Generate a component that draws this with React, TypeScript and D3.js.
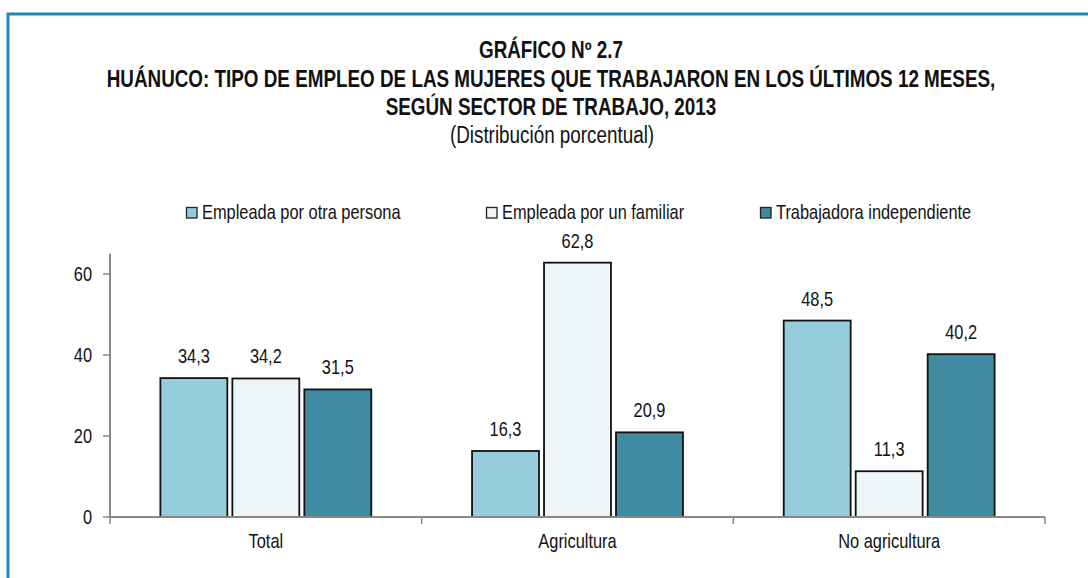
import React from 'react';
import * as d3 from 'd3';

const categories = ['Total', 'Agricultura', 'No agricultura'];
const seriesNames = ['Empleada por otra persona', 'Empleada por un familiar', 'Trabajadora independiente'];
const empleadaOtra = [34.3, 16.3, 48.5];
const empleadaFamiliar = [34.2, 62.8, 11.3];
const independiente = [31.5, 20.9, 40.2];
const yTicks = [0, 20, 40, 60];
const colors = ['#96cddd', '#edf5f8', '#3e8ba2'];

const titleLines = [
  'GRÁFICO Nº 2.7',
  'HUÁNUCO: TIPO DE EMPLEO DE LAS MUJERES QUE TRABAJARON EN LOS ÚLTIMOS 12 MESES,',
  'SEGÚN SECTOR DE TRABAJO, 2013',
];
const subtitle = '(Distribución porcentual)';

const font = '"Liberation Sans", Arial, sans-serif';
const narrow = 0.82; // no Arial Narrow installed: squeeze Liberation Sans

// text drawn in a narrow face by scaling x
const NText = ({ x, y, anchor = 'start', size = 20, bold = false, children }: any) => (
  <g transform={`translate(${x},${y}) scale(${narrow},1)`}>
    <text x={0} y={0} textAnchor={anchor} fontSize={size} fontWeight={bold ? 'bold' : 'normal'} fill="#111">
      {children}
    </text>
  </g>
);

export default function App() {
  const width = 1088;
  const height = 578;
  const left = 110;
  const right = 1045;
  const base = 517;
  const series = [empleadaOtra, empleadaFamiliar, independiente];

  const x = d3.scaleBand().domain(categories).range([left, right]);
  const inner = d3.scaleBand().domain(seriesNames).range([0, x.bandwidth()]).paddingInner(0.07).paddingOuter(0.7);
  const y = d3.scaleLinear().domain([0, 65]).range([base, base - 65 * 4.05]);

  const legendX = [186, 486, 760];

  return (
    <svg width={width} height={height} style={{ position: 'absolute', left: 0, top: 0, fontFamily: font }}>
      <rect x={0} y={0} width={width} height={height} fill="#fff" />
      <path d={`M8,${height} V14 H${width}`} fill="none" stroke="#1a87b8" strokeWidth={3} />

      {titleLines.map((t, i) => (
        <NText key={i} x={551} y={[58, 87, 115][i]} anchor="middle" size={23} bold>
          {t}
        </NText>
      ))}
      <NText x={552} y={143} anchor="middle" size={23}>{subtitle}</NText>

      {seriesNames.map((s, i) => (
        <g key={s}>
          <rect x={legendX[i] + 0.5} y={207.5} width={10.5} height={10.5} fill={colors[i]} stroke="#222" strokeWidth={1.3} />
          <NText x={legendX[i] + 16} y={219}>{s}</NText>
        </g>
      ))}

      {/* y axis */}
      <line x1={left} x2={left} y1={y(65)} y2={base} stroke="#888" strokeWidth={2} />
      {yTicks.map(t => (
        <g key={t}>
          <line x1={left - 7} x2={left} y1={y(t)} y2={y(t)} stroke="#888" strokeWidth={1.5} />
          <NText x={left - 18} y={y(t) + 7} anchor="end">{t}</NText>
        </g>
      ))}

      {/* bars */}
      {categories.map((c, ci) => (
        <g key={c} transform={`translate(${x(c)},0)`}>
          {series.map((vals, si) => {
            const bx = inner(seriesNames[si])!;
            const v = vals[ci];
            return (
              <g key={si}>
                <rect x={bx} y={y(v)} width={inner.bandwidth()} height={base - y(v)} fill={colors[si]} stroke="#111" strokeWidth={1.8} />
                <NText x={bx + inner.bandwidth() / 2} y={y(v) - 15} anchor="middle">
                  {v.toFixed(1).replace('.', ',')}
                </NText>
              </g>
            );
          })}
          <NText x={x.bandwidth() / 2} y={548} anchor="middle">{c}</NText>
        </g>
      ))}

      {/* x axis */}
      <line x1={left} x2={right} y1={base} y2={base} stroke="#888" strokeWidth={2} />
      {[...categories.map(c => x(c)!), right].map((px, i) => (
        <line key={i} x1={px} x2={px} y1={base} y2={base + 7} stroke="#888" strokeWidth={1.5} />
      ))}
    </svg>
  );
}
